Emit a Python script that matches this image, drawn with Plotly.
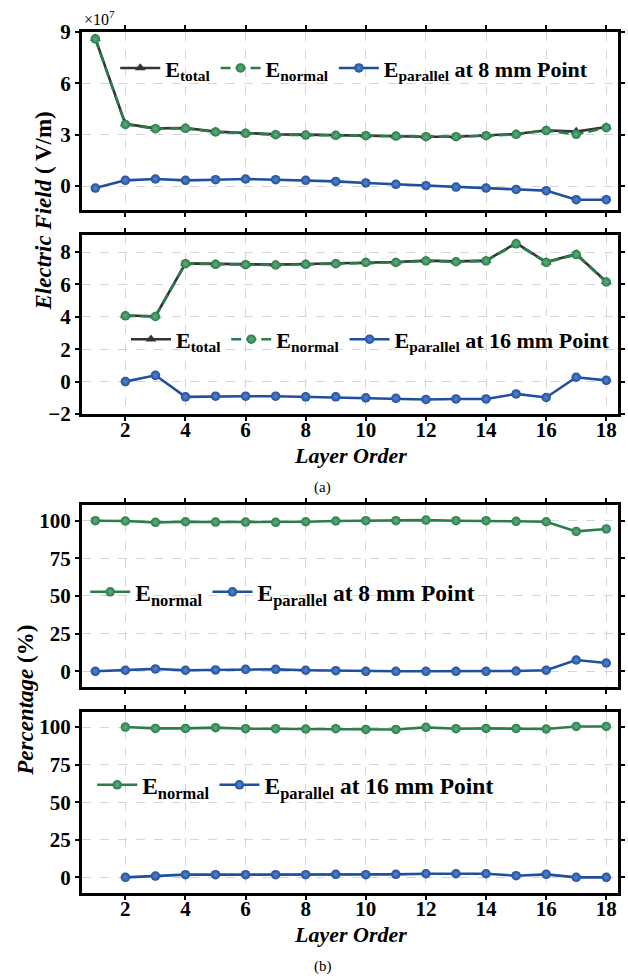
import plotly.graph_objects as go

# ---------------- data ----------------
layers = list(range(1, 19))
layers_b = list(range(2, 19))

# (a) top: 8 mm point, units of 1e7 V/m
e_total_8 = [8.63, 3.63, 3.37, 3.39, 3.18, 3.10, 3.02, 3.00, 2.96, 2.94, 2.92, 2.88, 2.88, 2.94, 3.04, 3.26, 3.18, 3.45]
e_normal_8 = [8.60, 3.60, 3.35, 3.37, 3.16, 3.08, 3.00, 2.98, 2.96, 2.94, 2.92, 2.88, 2.88, 2.94, 3.02, 3.24, 3.02, 3.41]
e_par_8 = [-0.12, 0.33, 0.41, 0.33, 0.37, 0.41, 0.37, 0.33, 0.27, 0.18, 0.10, 0.02, -0.06, -0.12, -0.20, -0.27, -0.80, -0.80]

# (a) bottom: 16 mm point
e_total_16 = [4.08, 4.04, 7.30, 7.26, 7.24, 7.22, 7.26, 7.30, 7.38, 7.38, 7.47, 7.42, 7.47, 8.55, 7.38, 7.88, 6.17]
e_normal_16 = [4.06, 4.02, 7.28, 7.24, 7.22, 7.20, 7.24, 7.28, 7.36, 7.36, 7.45, 7.40, 7.45, 8.51, 7.36, 7.84, 6.15]
e_par_16 = [0.00, 0.39, -0.94, -0.90, -0.90, -0.90, -0.94, -0.94, -1.00, -1.03, -1.10, -1.07, -1.07, -0.76, -0.98, 0.27, 0.08]

# (b) percentages
pct_normal_8 = [100.0, 99.8, 98.9, 99.3, 99.1, 99.1, 98.9, 99.3, 99.8, 100.0, 100.0, 100.4, 100.0, 100.0, 99.6, 99.3, 92.9, 94.5]
pct_par_8 = [0.0, 0.7, 1.6, 0.7, 0.9, 1.3, 1.3, 0.7, 0.4, 0.0, 0.0, 0.0, 0.0, 0.0, 0.2, 0.7, 7.5, 5.5]
pct_normal_16 = [100.0, 99.1, 99.1, 99.6, 98.9, 98.9, 98.7, 98.9, 98.4, 98.4, 99.8, 98.9, 99.1, 99.1, 98.7, 100.4, 100.4]
pct_par_16 = [0.0, 0.9, 1.8, 1.8, 1.8, 1.8, 1.8, 2.0, 1.8, 2.0, 2.4, 2.4, 2.4, 1.1, 2.0, 0.0, 0.0]

x_ticks = [2, 4, 6, 8, 10, 12, 14, 16, 18]
y1_ticks = [0, 3, 6, 9]
y2_ticks = [-2, 0, 2, 4, 6, 8]
pct_ticks = [0, 25, 50, 75, 100]

# ---------------- style ----------------
BLACK = "#333333"
GREEN = "#2b7d4c"
BLUE = "#1f4f9e"
FONT = "Liberation Serif"
LW = 2.6
MS = 9.5

fig = go.Figure()

def add_total(x, y, xa, ya, lg):
    fig.add_trace(go.Scatter(x=x, y=y, xaxis=xa, yaxis=ya, legend=lg, mode="lines+markers",
                             name="<b>E<sub>total</sub></b>",
                             line=dict(color=BLACK, width=LW),
                             marker=dict(symbol="triangle-up", size=MS, color=BLACK)))

def add_normal(x, y, xa, ya, lg, dash):
    fig.add_trace(go.Scatter(x=x, y=y, xaxis=xa, yaxis=ya, legend=lg, mode="lines+markers",
                             name="<b>E<sub>normal</sub></b>",
                             line=dict(color=GREEN, width=LW, dash=dash),
                             marker=dict(symbol="circle", size=MS, color=GREEN,
                                         gradient=dict(type="radial", color="#5fb07f"))))

def add_par(x, y, xa, ya, lg, pt):
    fig.add_trace(go.Scatter(x=x, y=y, xaxis=xa, yaxis=ya, legend=lg, mode="lines+markers",
                             name="<b>E<sub>parallel</sub> at %s Point</b>" % pt,
                             line=dict(color=BLUE, width=LW),
                             marker=dict(symbol="circle", size=MS, color=BLUE,
                                         gradient=dict(type="radial", color="#5a86cf"))))

add_total(layers, e_total_8, "x", "y", "legend")
add_normal(layers, e_normal_8, "x", "y", "legend", "10px,5px")
add_par(layers, e_par_8, "x", "y", "legend", "8 mm")

add_total(layers_b, e_total_16, "x2", "y2", "legend2")
add_normal(layers_b, e_normal_16, "x2", "y2", "legend2", "10px,5px")
add_par(layers_b, e_par_16, "x2", "y2", "legend2", "16 mm")

add_normal(layers, pct_normal_8, "x3", "y3", "legend3", "solid")
add_par(layers, pct_par_8, "x3", "y3", "legend3", "8 mm")

add_normal(layers_b, pct_normal_16, "x4", "y4", "legend4", "solid")
add_par(layers_b, pct_par_16, "x4", "y4", "legend4", "16 mm")

tickfont = dict(family=FONT, size=21, color="black", weight="bold")
common_axis = dict(showline=True, linewidth=3, linecolor="black", mirror="allticks",
                   ticks="outside", ticklen=4, tickwidth=2, tickcolor="black",
                   showgrid=True, gridcolor="#d6d6d6", griddash="dash", gridwidth=1,
                   zeroline=False, tickfont=tickfont)

domains = {1: [0.7933, 1.0], 2: [0.5563, 0.7642], 3: [0.2393, 0.4506], 4: [0.0, 0.2102]}
yranges = {1: [-1.4, 9], 2: [-2, 9.05], 3: [-10.4, 110.4], 4: [-10.4, 110.0]}
yticks = {1: y1_ticks, 2: y2_ticks, 3: pct_ticks, 4: pct_ticks}

layout_axes = {}
for i in range(1, 5):
    xs = "xaxis" if i == 1 else "xaxis%d" % i
    ys = "yaxis" if i == 1 else "yaxis%d" % i
    yname = "y" if i == 1 else "y%d" % i
    xname = "x" if i == 1 else "x%d" % i
    layout_axes[xs] = dict(common_axis, domain=[0, 1], anchor=yname, range=[0.557, 18.39],
                           tickvals=x_ticks, showticklabels=(i in (2, 4)),
                           ticklen=4, ticklabelstandoff=-9)
    layout_axes[ys] = dict(common_axis, domain=domains[i], anchor=xname, range=yranges[i],
                           tickvals=yticks[i])

legend_common = dict(orientation="h", bgcolor="rgba(0,0,0,0)", borderwidth=0,
                     font=dict(family=FONT, size=22, color="black"),
                     yanchor="middle", xanchor="left", itemsizing="trace",
                     itemwidth=40, tracegroupgap=0, indentation=0)
legend_b = dict(legend_common, font=dict(family=FONT, size=23.5, color="black"))

fig.update_layout(
    width=628, height=979,
    margin=dict(l=82, r=3, t=32, b=86),
    paper_bgcolor="white", plot_bgcolor="white",
    font=dict(family=FONT, color="black"),
    showlegend=True,
    legend=dict(legend_common, x=0.062, y=0.958),
    legend2=dict(legend_common, x=0.082, y=0.643),
    legend3=dict(legend_b, x=0.006, y=0.3496),
    legend4=dict(legend_b, x=0.019, y=0.1254),
    **layout_axes,
)

def pa(text, x, y, size, angle=0):
    return dict(text=text, x=x, y=y, xref="paper", yref="paper", xanchor="center",
                yanchor="middle", showarrow=False, textangle=angle,
                font=dict(family=FONT, size=size, color="black"))

ann = [
    dict(text="×10<sup>7</sup>", x=0.0, y=1.0, xref="paper", yref="paper", xanchor="left",
         yanchor="bottom", yshift=2, showarrow=False, font=dict(family=FONT, size=16)),
    pa("<b><i>Layer Order</i></b>", 0.5, (893 - 456) / 861, 22),
    pa("<b><i>Layer Order</i></b>", 0.5, (893 - 934) / 861, 22),
    pa("(a)", (326 - 82) / 543, (893 - 487) / 861, 15),
    pa("(b)", (326 - 82) / 543, (893 - 966) / 861, 15),
    pa("<b><i>Electric Field</i> ( V/m)</b>", (44 - 82) / 543, (893 - 211) / 861, 23, -90),
    pa("<b><i>Percentage</i> (%)</b>", (24 - 82) / 543, (893 - 700) / 861, 23, -90),
]
fig.update_layout(annotations=ann)

fig.write_html("out.html")
